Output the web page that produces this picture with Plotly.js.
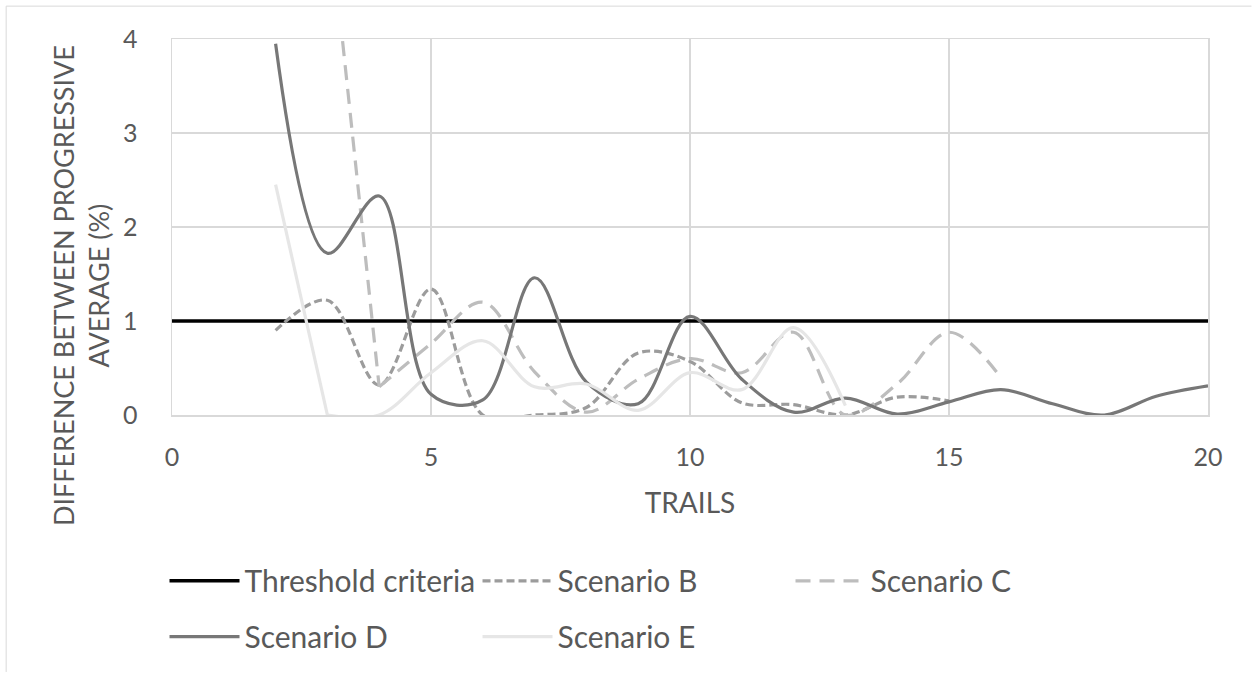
<!DOCTYPE html>
<html>
<head>
<meta charset="utf-8">
<script src="https://cdn.plot.ly/plotly-3.0.1.min.js"></script>
<style>
  html, body { margin: 0; padding: 0; background: #ffffff; }
  #chart { width: 1252px; height: 674px; }
</style>
</head>
<body>
<div id="chart"></div>
<script>
// ---- data ----
const thresholdX = [0, 20];
const thresholdY = [1, 1];

const trailsB = [2, 3, 4, 5, 6, 7, 8, 9, 10, 11, 12, 13, 14, 15];
const scenarioB = [0.9, 1.22, 0.32, 1.34, 0.0, 0.0, 0.08, 0.66, 0.57, 0.13, 0.11, 0.0, 0.19, 0.15];

const trailsC = [3, 4, 5, 6, 7, 8, 9, 10, 11, 12, 13, 14, 15, 16];
const scenarioC = [5.5, 0.3, 0.76, 1.2, 0.46, 0.03, 0.38, 0.6, 0.45, 0.88, 0.0, 0.33, 0.88, 0.4];

const trailsD = [2, 3, 4, 5, 6, 7, 8, 9, 10, 11, 12, 13, 14, 15, 16, 17, 18, 19, 20];
const scenarioD = [3.95, 1.72, 2.33, 0.22, 0.16, 1.46, 0.35, 0.12, 1.05, 0.38, 0.03, 0.18, 0.01, 0.14, 0.27, 0.12, 0.0, 0.2, 0.31];

const trailsE = [2, 3, 4, 5, 6, 7, 8, 9, 10, 11, 12, 13];
const scenarioE = [2.45, 0.0, 0.0, 0.45, 0.79, 0.3, 0.33, 0.05, 0.45, 0.27, 0.93, 0.1];

const xTicks = [0, 5, 10, 15, 20];
const yTicks = [0, 1, 2, 3, 4];

const seriesNames = ['Threshold criteria', 'Scenario B', 'Scenario C', 'Scenario D', 'Scenario E'];

// ---- styles ----
const styleB = { color: '#9c9c9c', width: 3.2, dash: '8px,4px' };
const styleC = { color: '#bdbdbd', width: 3.2, dash: '15px,9px' };
const styleD = { color: '#777777', width: 3.2 };
const styleE = { color: '#e6e6e6', width: 3.2 };
function spline(st) { return Object.assign({ shape: 'spline', smoothing: 1 }, st); }
function straight(st) { return Object.assign({ shape: 'linear' }, st); }

// ---- traces (steep opening segments of C and E are drawn straight, as in the source) ----
const traces = [
  { x: thresholdX, y: thresholdY, name: seriesNames[0], mode: 'lines',
    line: { color: '#000000', width: 3.5 }, legend: 'legend' },
  { x: trailsB, y: scenarioB, name: seriesNames[1], mode: 'lines',
    line: spline(styleB), legend: 'legend' },
  { x: trailsC.slice(1), y: scenarioC.slice(1), name: seriesNames[2], mode: 'lines',
    line: spline(styleC), legend: 'legend' },
  { x: trailsC.slice(0, 2), y: scenarioC.slice(0, 2), name: seriesNames[2], mode: 'lines',
    line: straight(styleC), showlegend: false, legend: 'legend' },
  { x: trailsD, y: scenarioD, name: seriesNames[3], mode: 'lines',
    line: spline(styleD), legend: 'legend2' },
  { x: trailsE.slice(1), y: scenarioE.slice(1), name: seriesNames[4], mode: 'lines',
    line: spline(styleE), legend: 'legend2' },
  { x: trailsE.slice(0, 2), y: scenarioE.slice(0, 2), name: seriesNames[4], mode: 'lines',
    line: straight(styleE), showlegend: false, legend: 'legend2' }
];

const PL = 171.5, PT = 38.5, PW = 1037, PH = 377.5;
function px2paperX(px) { return (px - PL) / PW; }
function px2paperY(py) { return (PT + PH - py) / PH; }

const legendCommon = {
  orientation: 'h', xanchor: 'left', yanchor: 'middle',
  entrywidth: 228, entrywidthmode: 'pixels', itemwidth: 70,
  font: { size: 30, color: '#595959' }, bgcolor: 'rgba(0,0,0,0)', traceorder: 'normal'
};

const layout = {
  width: 1252, height: 674,
  margin: { l: 171.5, r: 43.5, t: 38.5, b: 258, pad: 0 },
  paper_bgcolor: '#ffffff', plot_bgcolor: '#ffffff',
  font: { family: 'Lato, "Open Sans", sans-serif', color: '#595959', size: 25 },
  hovermode: false,
  xaxis: {
    range: [0, 20], tickvals: xTicks, ticktext: xTicks.map(String),
    showgrid: true, gridcolor: '#d9d9d9', gridwidth: 1.5,
    zeroline: false, showline: true, mirror: true, linecolor: '#d9d9d9', linewidth: 1.5,
    ticks: '', ticklabelstandoff: 19,
    tickfont: { size: 25, color: '#595959' },
    title: { text: 'TRAILS', font: { size: 28, color: '#595959' }, standoff: 24 }
  },
  yaxis: {
    range: [0, 4], tickvals: yTicks, ticktext: yTicks.map(String),
    showgrid: true, gridcolor: '#d9d9d9', gridwidth: 1.5,
    zeroline: false, showline: true, mirror: true, linecolor: '#d9d9d9', linewidth: 1.5,
    ticks: '', ticklabelstandoff: 28,
    tickfont: { size: 25, color: '#595959' }
  },
  showlegend: true,
  legend: Object.assign({}, legendCommon, { x: px2paperX(164), y: px2paperY(581) }),
  legend2: Object.assign({}, legendCommon, { x: px2paperX(164), y: px2paperY(637) }),
  annotations: [{
    text: 'DIFFERENCE BETWEEN PROGRESSIVE<br>AVERAGE (%)',
    textangle: -90, showarrow: false,
    xref: 'paper', yref: 'paper',
    x: px2paperX(80), y: px2paperY(286), xanchor: 'center', yanchor: 'middle',
    font: { size: 27, color: '#595959' }
  }],
  shapes: [
    { type: 'line', xref: 'paper', yref: 'paper', x0: px2paperX(5.5), x1: px2paperX(1252), y0: px2paperY(5.5), y1: px2paperY(5.5),
      line: { color: '#d9d9d9', width: 1 }, layer: 'below' },
    { type: 'line', xref: 'paper', yref: 'paper', x0: px2paperX(5.5), x1: px2paperX(5.5), y0: px2paperY(5.5), y1: px2paperY(674),
      line: { color: '#d9d9d9', width: 1 }, layer: 'below' }
  ]
};

Plotly.newPlot('chart', traces, layout, { staticPlot: true, displayModeBar: false });
</script>
</body>
</html>
